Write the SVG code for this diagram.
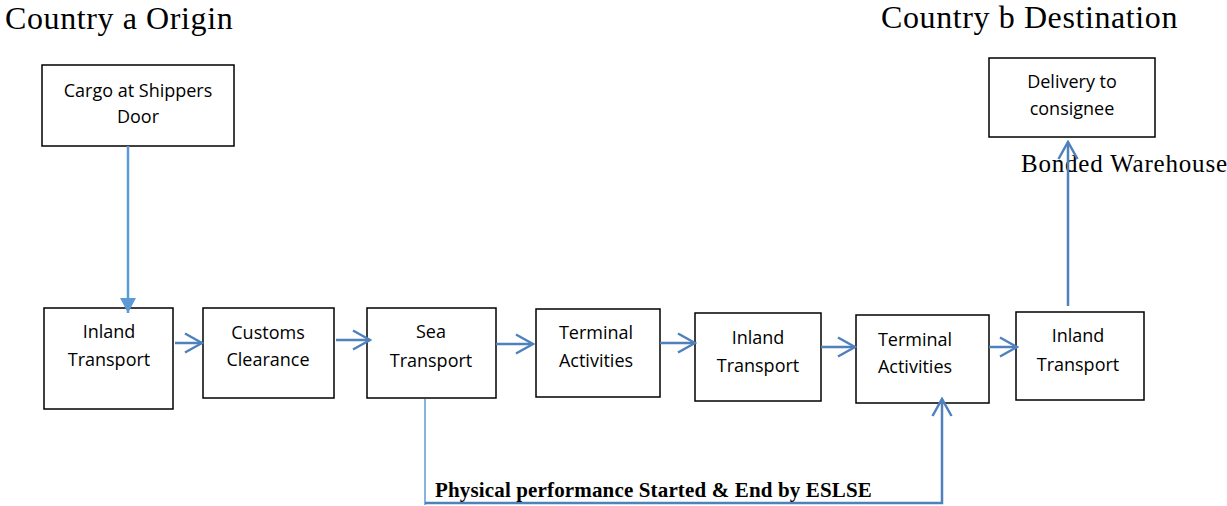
<svg xmlns="http://www.w3.org/2000/svg" width="1227" height="506" viewBox="0 0 1227 506">
<style>
.box{fill:#fff;stroke:#000;stroke-width:1.5}
.lbl{font-family:"Open Sans",sans-serif;font-size:18px;fill:#000;text-anchor:middle}
.title{font-family:"Liberation Serif",serif;font-size:32px;fill:#000;letter-spacing:0.6px}
.conn{fill:none;stroke:#4F81BD;stroke-width:2.5}
.light{fill:none;stroke:#5B9BD5;stroke-width:2.5}
.thin{fill:none;stroke:#5B9BD5;stroke-width:1.5}
</style>
<defs>
<marker id="chev" viewBox="-20 -12 22 24" markerWidth="22" markerHeight="24" refX="0" refY="0" markerUnits="userSpaceOnUse" orient="auto">
<path d="M-17,-9.5 L0,0 L-17,9.5" fill="none" stroke="#4F81BD" stroke-width="2.5"/>
</marker>
<marker id="tri" viewBox="-16 -9 17 18" markerWidth="17" markerHeight="18" refX="0" refY="0" markerUnits="userSpaceOnUse" orient="auto">
<path d="M-15,-8 L0,0 L-15,8 Z" fill="#5B9BD5"/>
</marker>
</defs>
<rect width="1227" height="506" fill="#fff"/>
<text class="title" x="5" y="29">Country a Origin</text>
<text class="title" x="881" y="28">Country b Destination</text>
<g id="n-cargo"><rect class="box" x="42" y="65" width="192" height="81"/><text class="lbl" x="138" y="97">Cargo at Shippers</text><text class="lbl" x="138" y="123">Door</text></g>
<g id="n-delivery"><rect class="box" x="989" y="58" width="166" height="79"/><text class="lbl" x="1072" y="88">Delivery to</text><text class="lbl" x="1072" y="115">consignee</text></g>
<g id="n-inland1"><rect class="box" x="44" y="308" width="129" height="101"/><text class="lbl" x="109" y="338">Inland</text><text class="lbl" x="109" y="366">Transport</text></g>
<g id="n-customs"><rect class="box" x="203" y="308" width="131" height="90"/><text class="lbl" x="268" y="339">Customs</text><text class="lbl" x="268" y="366">Clearance</text></g>
<g id="n-sea"><rect class="box" x="367" y="308" width="129" height="90"/><text class="lbl" x="431" y="338">Sea</text><text class="lbl" x="431" y="367">Transport</text></g>
<g id="n-terminal1"><rect class="box" x="536" y="309" width="124" height="88"/><text class="lbl" x="596" y="339">Terminal</text><text class="lbl" x="596" y="367">Activities</text></g>
<g id="n-inland2"><rect class="box" x="695" y="313" width="126" height="88"/><text class="lbl" x="758" y="344">Inland</text><text class="lbl" x="758" y="372">Transport</text></g>
<g id="n-terminal2"><rect class="box" x="856" y="315" width="133" height="88"/><text class="lbl" x="915" y="346">Terminal</text><text class="lbl" x="915" y="373">Activities</text></g>
<g id="n-inland3"><rect class="box" x="1016" y="312" width="128" height="88"/><text class="lbl" x="1078" y="342">Inland</text><text class="lbl" x="1078" y="371">Transport</text></g>
<text x="1021" y="172" font-family="Liberation Serif, serif" font-size="25" letter-spacing="0.8" fill="#000">Bonded Warehouse</text>
<g id="connectors">
<line class="light" x1="128" y1="146" x2="128" y2="313" marker-end="url(#tri)"/>
<line class="conn" x1="175" y1="343" x2="202" y2="343" marker-end="url(#chev)"/>
<line class="conn" x1="336" y1="340" x2="370" y2="340" marker-end="url(#chev)"/>
<line class="conn" x1="496" y1="344" x2="533" y2="344" marker-end="url(#chev)"/>
<line class="conn" x1="660" y1="343" x2="695" y2="343" marker-end="url(#chev)"/>
<line class="conn" x1="821" y1="347" x2="855" y2="347" marker-end="url(#chev)"/>
<line class="conn" x1="989" y1="347" x2="1017" y2="347" marker-end="url(#chev)"/>
<line class="conn" x1="1068" y1="306" x2="1068" y2="142" marker-end="url(#chev)"/>
<line class="thin" x1="425" y1="399" x2="425" y2="505"/>
<polyline class="conn" points="425,503 942,503 942,399" marker-end="url(#chev)"/>
</g>
<text x="435" y="497" font-family="Liberation Serif, serif" font-size="21" font-weight="bold" letter-spacing="0.15" fill="#000">Physical performance Started &amp; End by ESLSE</text>
</svg>
